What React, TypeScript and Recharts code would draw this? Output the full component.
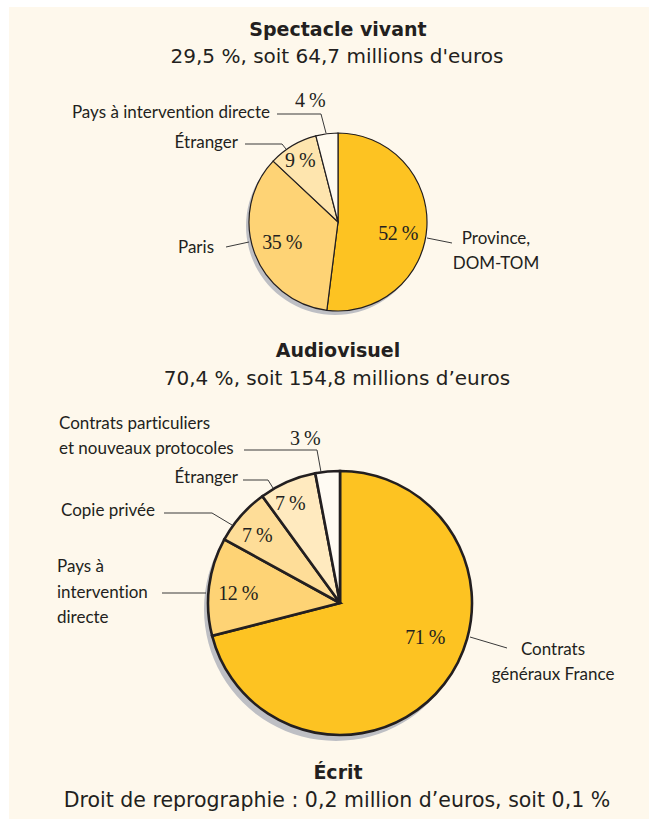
import React from 'react';
import { PieChart, Pie, Cell } from 'recharts';

// ---------- Data ----------
const spectacleCategories = ['Province, DOM-TOM', 'Paris', 'Étranger', 'Pays à intervention directe'];
const spectacleValues = [52, 35, 9, 4];

const audiovisuelCategories = [
  'Contrats généraux France',
  'Pays à intervention directe',
  'Copie privée',
  'Étranger',
  'Contrats particuliers et nouveaux protocoles',
];
const audiovisuelValues = [71, 12, 7, 7, 3];

const titles = ['Spectacle vivant', 'Audiovisuel', 'Écrit'];
const subtitles = [
  "29,5 %, soit 64,7 millions d'euros",
  '70,4 %, soit 154,8 millions d’euros',
  'Droit de reprographie : 0,2 million d’euros, soit 0,1 %',
];

// ---------- Styles / layout ----------
const W = 649;
const H = 819;
const BG = '#FEF8EC';
const INK = '#231F20';
const SHADOW = '#BEBFC4';
const spectacleColors = ['#FDC322', '#FED375', '#FEE5AE', '#FFFAEF'];
const audiovisuelColors = ['#FDC322', '#FED375', '#FEDD98', '#FFEABF', '#FFFBF3'];

const TITLE_FONT = "'DejaVu Sans', sans-serif";
const LABEL_FONT = "Lato, 'Noto Sans', sans-serif";
const PCT_FONT = "'Liberation Serif', serif";

type Layout = {
  pct: [number, number];
  lines: string[];
  text: [number, number];
  anchor: 'start' | 'middle' | 'end';
  lineH?: number;
  leader: [number, number][];
};

const spectacleLayout: Layout[] = [
  { pct: [398, 233], lines: ['Province,', 'DOM-TOM'], text: [496, 238], anchor: 'middle', lineH: 25, leader: [[427, 238], [452, 243]] },
  { pct: [282, 242], lines: ['Paris'], text: [214, 247], anchor: 'end', leader: [[226, 247], [249, 242]] },
  { pct: [300, 160], lines: ['Étranger'], text: [238, 142], anchor: 'end', leader: [[245, 144], [282, 144], [286, 149]] },
  { pct: [310, 100], lines: ['Pays à intervention directe'], text: [270, 112], anchor: 'end', leader: [[277, 114], [321, 114], [326, 133]] },
];

const audiovisuelLayout: Layout[] = [
  { pct: [425, 637], lines: ['Contrats', 'généraux France'], text: [553, 649], anchor: 'middle', lineH: 25, leader: [[470, 637], [507, 648]] },
  { pct: [238, 593], lines: ['Pays à', 'intervention', 'directe'], text: [57, 566], anchor: 'start', lineH: 25.5, leader: [[162, 593], [206, 593]] },
  { pct: [257, 535], lines: ['Copie privée'], text: [155, 510], anchor: 'end', leader: [[164, 513], [212, 513], [232, 525]] },
  { pct: [290, 503], lines: ['Étranger'], text: [238, 477], anchor: 'end', leader: [[243, 480], [268, 480], [273, 488]] },
  { pct: [305, 438], lines: ['Contrats particuliers', 'et nouveaux protocoles'], text: [59, 423], anchor: 'start', lineH: 25, leader: [[244, 450], [317, 450], [321, 472]] },
];

const spectacleData = spectacleCategories.map((name, i) => ({ name, value: spectacleValues[i] }));
const audiovisuelData = audiovisuelCategories.map((name, i) => ({ name, value: audiovisuelValues[i] }));
const sum = (a: number[]) => a.reduce((s, v) => s + v, 0);
const spectacleShadow = [{ name: 'ombre', value: sum(spectacleValues) }];
const audiovisuelShadow = [{ name: 'ombre', value: sum(audiovisuelValues) }];

const makeLabel = (layout: Layout[]) => (props: any) => {
  const { index, value } = props;
  const l = layout[index];
  if (!l) return null;
  const lh = l.lineH ?? 25;
  return (
    <g>
      <polyline
        points={l.leader.map((p) => p.join(',')).join(' ')}
        fill="none"
        stroke="#3a3a3a"
        strokeWidth={1}
      />
      <text
        x={l.pct[0]}
        y={l.pct[1]}
        dy="0.36em"
        textAnchor="middle"
        fontFamily={PCT_FONT}
        fontSize={20}
        letterSpacing={-0.5}
        fill={INK}
      >
        {`${value} %`}
      </text>
      {l.lines.map((t, i) => (
        <text
          key={i}
          x={l.text[0]}
          y={l.text[1] + i * lh}
          dy="0.36em"
          textAnchor={l.anchor}
          fontFamily={LABEL_FONT}
          fontSize={17}
          style={{ fontVariantLigatures: 'none' }}
          fill={INK}
        >
          {t}
        </text>
      ))}
    </g>
  );
};

const Title = ({ y, text }: { y: number; text: string }) => (
  <text x={338} y={y} dy="0.36em" textAnchor="middle" fontFamily={TITLE_FONT} fontWeight="bold" fontSize={19} fill={INK}>
    {text}
  </text>
);
const Sub = ({ y, text, size }: { y: number; text: string; size: number }) => (
  <text x={337} y={y} dy="0.36em" textAnchor="middle" fontFamily={TITLE_FONT} fontSize={size} fill={INK}>
    {text}
  </text>
);

export default function App() {
  return (
    <div style={{ position: 'absolute', left: 0, top: 0, width: W, height: H, background: '#fff' }}>
      <div style={{ position: 'absolute', left: 9, top: 7, width: W - 9, height: H - 7, background: BG }} />
      <div style={{ position: 'absolute', left: 0, top: 0 }}>
        <PieChart width={W} height={H} margin={{ top: 0, right: 0, bottom: 0, left: 0 }}>
          <Title y={29} text={titles[0]} />
          <Sub y={56} text={subtitles[0]} size={20} />
          <Title y={350} text={titles[1]} />
          <Sub y={378} text={subtitles[1]} size={20} />
          <Title y={772} text={titles[2]} />
          <Sub y={800} text={subtitles[2]} size={20.5} />

          <Pie
            data={spectacleShadow}
            dataKey="value"
            cx={335}
            cy={226}
            outerRadius={89}
            startAngle={90}
            endAngle={-270}
            fill={SHADOW}
            stroke="none"
            isAnimationActive={false}
          />
          <Pie
            data={spectacleData}
            dataKey="value"
            nameKey="name"
            cx={338}
            cy={222}
            outerRadius={89}
            startAngle={90}
            endAngle={-270}
            stroke={INK}
            strokeWidth={1.2}
            label={makeLabel(spectacleLayout)}
            labelLine={false}
            isAnimationActive={false}
          >
            {spectacleData.map((d, i) => (
              <Cell key={d.name} fill={spectacleColors[i]} />
            ))}
          </Pie>

          <Pie
            data={audiovisuelShadow}
            dataKey="value"
            cx={336}
            cy={609}
            outerRadius={132}
            startAngle={90}
            endAngle={-270}
            fill={SHADOW}
            stroke="none"
            isAnimationActive={false}
          />
          <Pie
            data={audiovisuelData}
            dataKey="value"
            nameKey="name"
            cx={340}
            cy={603}
            outerRadius={132}
            startAngle={90}
            endAngle={-270}
            stroke={INK}
            strokeWidth={2.6}
            label={makeLabel(audiovisuelLayout)}
            labelLine={false}
            isAnimationActive={false}
          >
            {audiovisuelData.map((d, i) => (
              <Cell key={d.name} fill={audiovisuelColors[i]} />
            ))}
          </Pie>
        </PieChart>
      </div>
    </div>
  );
}
